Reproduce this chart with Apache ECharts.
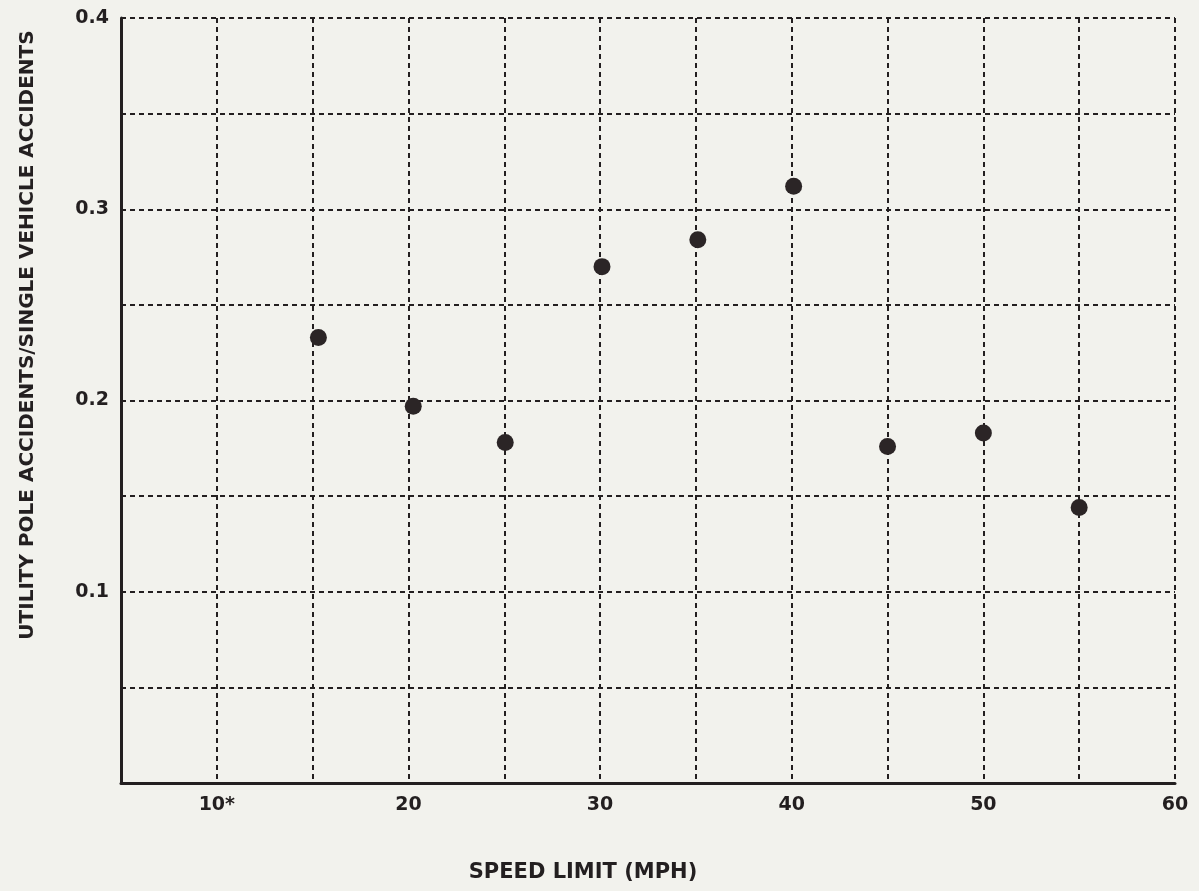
<!DOCTYPE html>
<html>
<head>
<meta charset="utf-8">
<script src="https://cdn.jsdelivr.net/npm/echarts@6/dist/echarts.min.js"></script>
<style>
html,body{margin:0;padding:0;background:#f2f2ed;}
#c{width:1199px;height:891px;}
</style>
</head>
<body>
<div id="c"></div>
<script>
var speedLimits = [15.3, 20.25, 25.05, 30.1, 35.1, 40.1, 45.0, 50.0, 55.0];
var ratios = [0.233, 0.197, 0.178, 0.270, 0.284, 0.312, 0.176, 0.183, 0.144];
var xTickLabels = {10: '10*', 20: '20', 30: '30', 40: '40', 50: '50', 60: '60'};
var yTickLabels = {1: '0.1', 2: '0.2', 3: '0.3', 4: '0.4'};
var xTitle = 'SPEED LIMIT (MPH)';
var yTitle = 'UTILITY POLE ACCIDENTS/SINGLE VEHICLE ACCIDENTS';

var ink = '#231f20';
var font = 'DejaVu Sans';
var chart = echarts.init(document.getElementById('c'));
chart.setOption({
  backgroundColor: '#f2f2ed',
  animation: false,
  grid: {left: 121, right: 24, top: 18, bottom: 108},
  xAxis: {
    type: 'value', min: 5, max: 60, interval: 5,
    axisLine: {lineStyle: {color: ink, width: 3}},
    axisTick: {show: false},
    axisLabel: {
      margin: 13, fontFamily: font, fontWeight: 'bold', fontSize: 19, color: ink,
      formatter: function (v) { return xTickLabels[Math.round(v)] || ''; }
    },
    splitLine: {lineStyle: {color: ink, width: 2, type: [5, 4]}}
  },
  yAxis: {
    type: 'value', min: 0, max: 0.4, interval: 0.05,
    axisLine: {show: true, lineStyle: {color: ink, width: 3}},
    axisTick: {show: false},
    axisLabel: {
      margin: 12, fontFamily: font, fontWeight: 'bold', fontSize: 19, color: ink,
      formatter: function (v) {
        var k = Math.round(v * 20);
        return (k % 2 === 0) ? (yTickLabels[k / 2] || '') : '';
      }
    },
    splitLine: {lineStyle: {color: ink, width: 2, type: [5, 4]}}
  },
  graphic: [
    {type: 'text', x: 583, y: 873,
     style: {text: xTitle, fontFamily: font, fontWeight: 'bold', fontSize: 21, fill: ink,
             textAlign: 'center', textVerticalAlign: 'middle'}},
    {type: 'text', x: 28, y: 335, rotation: Math.PI / 2,
     style: {text: yTitle, fontFamily: font, fontWeight: 'bold', fontSize: 20, fill: ink,
             textAlign: 'center', textVerticalAlign: 'middle'}}
  ],
  series: [{
    type: 'scatter',
    data: speedLimits.map(function (x, i) { return [x, ratios[i]]; }),
    symbolSize: 17,
    itemStyle: {color: '#2b2526', opacity: 1}
  }]
});
</script>
</body>
</html>
